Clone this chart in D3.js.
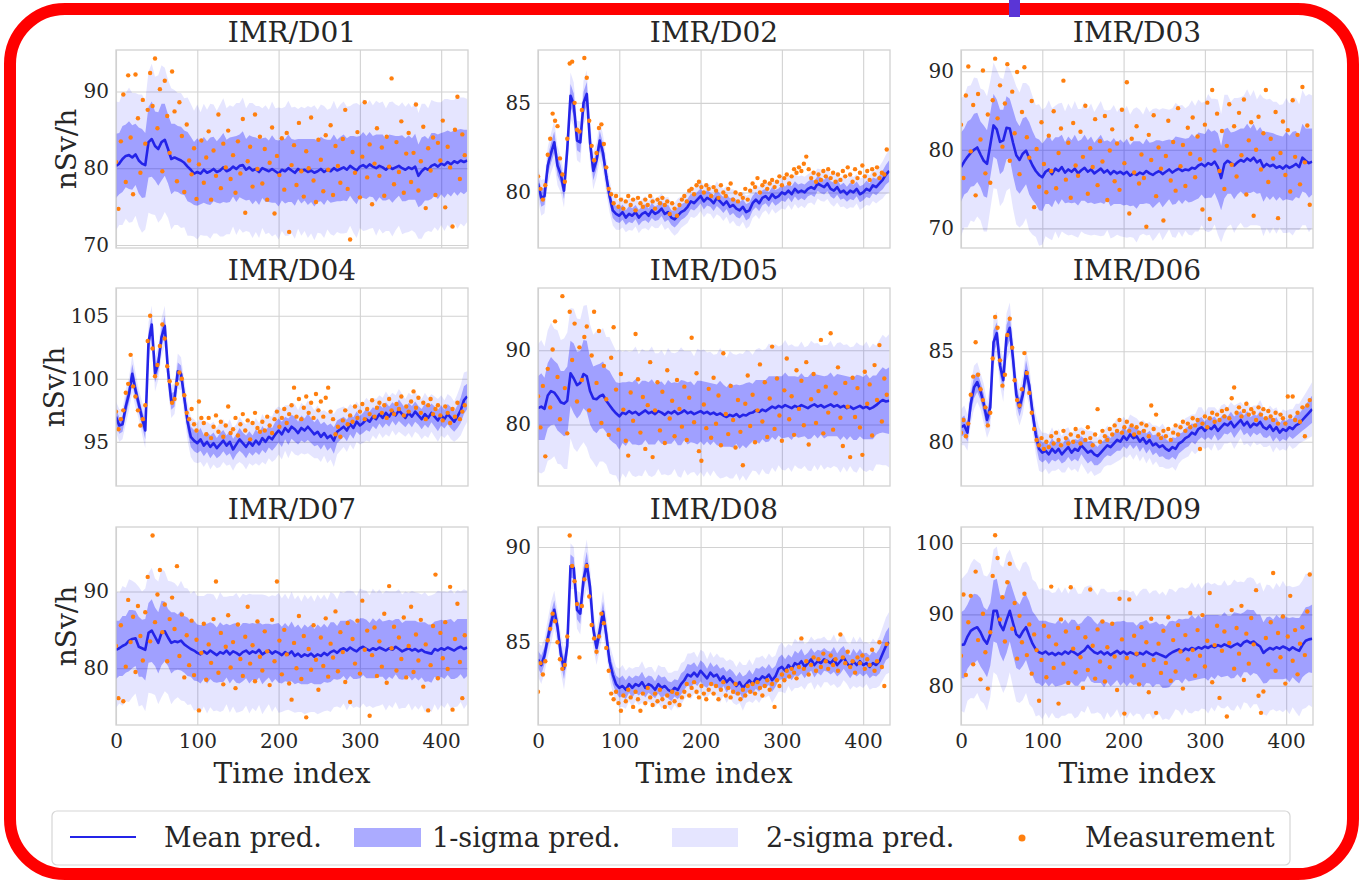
<!DOCTYPE html>
<html>
<head>
<meta charset="utf-8">
<script src="https://cdn.jsdelivr.net/npm/d3@7"></script>
<style>
body { margin: 0; background: #fff; }
svg text { font-family: "DejaVu Serif", serif; fill: #262626; }
</style>
</head>
<body>
<svg id="chart" width="1359" height="882"></svg>
<script>
// panel names, axis limits and ticks
const panelNames = ['IMR/D01', 'IMR/D02', 'IMR/D03', 'IMR/D04', 'IMR/D05', 'IMR/D06', 'IMR/D07', 'IMR/D08', 'IMR/D09'];
const yLow = [69.6, 76.9, 67.5, 91.5, 71.7, 77.55, 72.6, 80.65, 74.5];
const yHigh = [95.4, 87.95, 92.7, 107.2, 98.4, 88.5, 98.4, 91.05, 102.25];
const yTickValues = [[70, 80, 90], [80, 85], [70, 80, 90], [95, 100, 105], [80, 90], [80, 85], [80, 90], [85, 90], [80, 90, 100]];
const xTickValues = [0, 100, 200, 300, 400];
const timeMax = 433;
const meanStep = 4;   // mean / sigma read every 4 time indices
const measStep = 3;   // measurements read every 3 time indices
const legendLabels = ['Mean pred.', '1-sigma pred.', '2-sigma pred.', 'Measurement'];

// IMR/D01
const d01Mean = [80.3,80.6,81.2,81.6,81.7,81.4,81.8,81.0,80.6,80.4,
83.4,83.8,82.9,82.5,83.4,83.7,82.5,81.2,81.4,81.2,
81.0,80.7,80.2,79.8,79.3,79.5,79.3,79.8,79.4,79.6,
79.9,79.5,79.7,80.1,79.6,79.8,80.2,79.9,80.3,80.4,
79.8,80.1,79.7,79.9,79.5,80.0,79.8,79.6,79.9,79.6,
79.3,79.8,79.6,80.0,79.7,79.4,79.9,79.6,79.8,79.5,
79.7,79.4,79.6,79.9,79.5,79.8,79.6,80.0,79.7,79.9,
80.1,79.8,80.3,80.0,79.7,80.2,80.4,80.1,80.5,80.2,
80.0,80.3,80.1,79.8,80.2,79.9,80.1,80.3,80.0,79.8,
80.1,79.9,80.2,79.0,79.6,80.0,79.8,80.3,80.5,80.2,
80.6,80.4,80.8,80.5,80.9,80.7,81.0,80.8,81.0];
const d01Sd = [4.2,4.0,4.3,4.1,4.4,4.2,4.0,4.3,4.5,4.2,
4.6,4.9,4.5,4.8,5.0,4.7,4.5,4.6,4.4,4.3,
4.4,4.2,4.5,4.3,4.1,4.4,4.0,4.3,4.1,4.4,
4.2,4.0,4.3,4.5,4.1,4.2,3.9,4.3,4.1,4.4,
4.0,4.2,4.4,4.1,4.3,3.9,4.2,4.0,4.4,4.1,
4.3,4.0,4.2,4.4,4.1,4.3,3.9,4.2,4.0,4.3,
4.1,4.4,4.0,4.2,4.3,3.9,4.1,4.4,4.0,4.2,
4.3,4.1,3.9,4.2,4.4,4.0,4.3,4.1,4.2,4.0,
4.4,4.1,4.3,4.0,4.2,4.4,4.1,3.9,4.3,4.1,
4.2,4.0,4.3,4.1,4.4,4.2,4.0,4.3,4.1,4.2,
4.0,4.3,4.1,4.2,4.0,4.3,4.1,4.2,4.0];
const d01Meas = [80.8,74.7,83.5,89.6,78.2,92.1,84.0,76.6,92.2,86.5,79.4,88.9,
83.2,87.6,92.4,88.1,94.3,85.2,90.3,79.6,91.4,86.8,82.0,92.6,
87.4,78.3,88.6,84.2,76.9,85.7,81.0,79.2,82.6,76.0,80.5,83.6,
78.1,81.4,84.8,75.9,82.3,79.0,87.0,77.4,83.2,80.1,84.9,78.6,
81.7,76.8,83.5,79.3,86.4,74.2,80.9,82.8,77.6,87.0,79.9,84.1,
78.0,82.5,75.9,80.7,85.3,74.1,81.6,79.1,83.9,77.2,84.6,71.7,
80.4,83.0,77.8,85.9,79.6,76.3,82.2,80.0,86.6,78.4,75.6,83.7,
81.1,77.0,84.3,79.8,85.6,76.5,82.9,80.3,78.1,83.8,87.6,77.3,
70.7,82.1,79.4,84.7,76.2,81.5,88.6,78.8,83.1,75.3,80.6,85.2,
79.0,82.7,76.4,84.1,80.2,91.7,77.9,83.4,79.5,86.1,76.8,81.9,
84.6,78.2,82.0,88.3,77.1,80.9,85.4,74.8,82.6,79.7,84.0,76.5,
83.3,81.0,86.2,74.9,82.8,80.1,72.4,85.0,89.3,78.6,84.4,81.7];

// IMR/D02
const d02Mean = [80.5,79.7,79.8,81.5,82.2,82.8,81.5,81.0,80.1,82.4,
85.4,84.9,82.9,82.8,85.0,85.5,82.8,81.2,81.8,82.9,
82.2,80.9,79.8,79.0,78.8,78.7,78.9,78.6,78.8,78.7,
78.9,78.6,78.8,78.9,78.7,79.0,78.8,78.9,79.1,78.8,
78.9,78.6,78.5,78.7,78.9,79.0,79.2,79.5,79.4,79.6,
79.8,79.5,79.7,79.6,79.4,79.7,79.5,79.3,79.5,79.2,
79.3,79.1,79.0,79.2,78.9,79.0,79.4,79.6,79.4,79.7,
79.8,79.6,79.9,79.7,79.8,80.0,79.9,80.1,79.9,80.2,
80.0,80.1,80.0,80.2,80.3,80.2,80.5,80.4,80.3,80.5,
80.2,80.1,80.3,80.0,80.1,79.9,80.1,80.0,80.2,79.9,
80.0,80.2,80.1,80.4,80.3,80.5,80.7,81.0,81.2];
const d02Sd = [0.45,0.50,0.48,0.52,0.55,0.60,0.55,0.50,0.48,0.55,
0.65,0.62,0.55,0.58,0.62,0.66,0.58,0.52,0.50,0.55,
0.52,0.48,0.45,0.42,0.44,0.40,0.43,0.41,0.45,0.42,
0.40,0.44,0.42,0.45,0.41,0.43,0.40,0.44,0.42,0.45,
0.43,0.41,0.46,0.48,0.44,0.42,0.45,0.43,0.41,0.44,
0.42,0.45,0.43,0.40,0.44,0.46,0.42,0.45,0.43,0.48,
0.44,0.47,0.45,0.42,0.46,0.44,0.41,0.43,0.45,0.42,
0.40,0.43,0.41,0.44,0.42,0.45,0.43,0.40,0.44,0.42,
0.45,0.42,0.44,0.41,0.43,0.46,0.42,0.44,0.41,0.43,
0.42,0.45,0.43,0.41,0.44,0.42,0.46,0.43,0.41,0.44,
0.43,0.45,0.42,0.44,0.46,0.48,0.52,0.55,0.60];
const d02Meas = [80.9,80.2,79.6,80.4,82.1,83.0,84.4,84.0,83.7,81.9,81.0,80.6,
83.0,87.2,87.3,85.0,83.5,83.4,84.6,87.5,86.4,84.0,82.6,81.8,
82.2,83.6,83.8,82.7,81.4,80.2,79.9,79.4,79.8,79.2,79.6,79.1,
79.5,79.8,79.3,79.6,79.0,79.7,79.4,79.2,79.6,79.3,79.8,79.5,
79.1,79.6,79.4,79.7,79.3,79.5,78.8,79.4,79.1,78.7,79.3,79.6,
79.8,79.5,80.1,80.2,79.9,80.4,80.6,80.3,80.0,80.4,80.2,79.8,
80.3,80.1,79.7,80.4,80.0,79.8,80.2,80.5,79.6,80.0,79.5,79.9,
79.7,80.2,79.6,80.1,80.5,80.3,80.8,80.0,80.4,80.6,80.2,80.5,
80.7,80.3,80.6,80.9,80.4,80.8,81.0,80.5,80.9,81.3,81.1,81.4,
81.2,81.6,82.0,81.3,80.8,81.1,80.6,81.0,80.7,81.2,80.9,81.3,
80.8,81.1,80.6,81.0,80.7,81.2,80.9,81.4,81.0,80.6,81.3,80.8,
81.1,81.5,80.9,81.2,80.7,81.3,81.0,81.4,80.8,81.1,81.0,82.4];

// IMR/D03
const d03Mean = [77.8,78.5,79.1,79.6,80.0,80.3,79.4,78.6,78.2,80.6,
83.1,82.6,81.0,81.2,82.8,82.7,80.9,79.3,78.7,79.5,
79.9,78.9,78.0,77.3,76.8,76.5,77.2,77.5,76.9,77.6,
77.3,77.8,77.1,77.5,77.2,77.6,77.0,77.4,77.7,77.2,
77.5,77.0,77.3,77.6,77.1,77.4,76.9,77.3,77.0,77.2,
76.9,77.2,76.7,77.0,76.8,77.1,76.9,77.3,77.0,76.8,
77.1,77.3,76.9,77.2,77.5,77.1,77.4,77.6,77.3,77.5,
77.4,77.7,77.6,78.0,78.2,77.9,78.3,78.1,78.5,77.8,
76.4,78.2,78.6,78.3,78.0,78.4,78.7,78.5,78.9,78.6,
79.0,78.4,78.7,77.8,78.2,77.9,78.1,77.7,77.9,77.6,
78.0,77.7,77.9,78.2,77.8,79.0,78.6,78.3,78.5];
const d03Sd = [4.4,4.2,4.5,4.3,4.6,4.4,4.2,4.5,4.3,4.1,
4.0,3.8,4.1,3.9,4.0,3.8,4.2,4.4,4.3,4.5,
4.3,4.6,4.4,4.2,4.5,4.3,4.1,4.4,4.2,4.0,
4.3,4.1,3.9,4.2,4.0,4.3,4.1,3.9,4.2,4.0,
4.2,3.9,4.1,4.3,4.0,3.8,4.1,4.2,3.9,4.1,
4.0,4.2,3.9,4.1,4.3,4.0,3.8,4.1,3.9,4.2,
4.1,3.9,4.2,4.0,3.8,4.1,4.3,4.0,4.2,3.9,
4.1,4.3,4.0,4.2,3.9,4.1,4.4,4.2,4.0,4.3,
4.1,4.4,4.2,3.9,4.3,4.1,4.0,4.2,4.4,4.1,
4.3,4.0,4.2,4.4,4.1,4.3,4.0,4.2,3.9,4.1,
4.3,4.1,4.4,4.2,4.0,4.3,4.1,4.4,4.2];
const d03Meas = [83.2,76.4,86.9,90.6,79.8,85.7,74.2,87.1,81.3,90.1,77.0,84.5,
75.8,86.3,91.6,84.0,88.2,80.4,85.9,90.9,78.6,87.4,82.1,89.9,
76.9,84.8,90.5,81.6,79.0,86.2,72.7,80.1,75.3,83.5,78.2,74.6,
81.8,77.3,84.9,75.1,79.6,82.7,88.8,76.2,80.9,73.9,83.4,78.0,
76.7,82.3,79.1,85.6,74.4,80.2,77.8,83.9,75.5,81.1,78.5,84.3,
73.6,79.9,82.6,76.0,80.8,74.9,85.1,78.3,88.6,71.9,81.4,77.1,
83.0,75.7,79.4,76.4,70.2,81.9,78.7,84.4,74.1,80.3,77.6,71.0,
79.2,83.7,76.1,81.0,74.8,85.3,77.9,80.6,75.4,82.8,79.5,84.1,
76.5,81.7,78.8,72.4,83.2,86.0,71.2,87.6,79.9,84.6,77.3,82.4,
75.0,80.5,85.8,78.1,83.0,76.6,84.7,79.3,86.4,74.3,81.2,83.5,
71.6,80.0,84.2,77.5,82.1,87.6,75.9,81.4,78.9,84.8,71.3,79.6,
83.6,76.8,82.5,74.7,86.3,79.1,81.9,75.6,88.0,78.4,83.1,73.0];

// IMR/D04
const d04Mean = [97.0,96.3,96.4,97.8,98.8,100.4,99.1,98.0,96.9,95.9,
102.9,104.3,100.4,101.2,103.3,104.2,100.6,98.2,98.4,100.6,
100.4,98.5,96.6,95.4,95.1,94.9,95.2,94.7,95.0,94.6,
94.9,94.5,94.8,95.1,94.7,95.0,94.4,94.8,95.2,94.9,
94.6,95.0,94.7,95.1,94.8,95.3,95.0,95.4,95.2,95.6,
95.9,95.6,96.1,95.8,96.2,96.0,95.7,96.1,95.9,96.2,
95.9,95.6,95.8,95.4,95.7,95.3,95.5,95.1,95.8,96.0,
96.2,95.9,96.4,96.1,96.6,96.3,96.5,96.8,96.6,97.0,
96.8,97.2,96.9,97.3,97.0,97.4,97.1,97.5,97.2,96.9,
97.3,97.0,97.4,97.1,96.8,97.2,96.9,97.3,97.0,96.7,
97.1,96.8,97.2,96.9,96.6,97.0,97.5,98.3,98.6];
const d04Sd = [0.6,0.65,0.6,0.7,0.65,0.75,0.7,0.6,0.65,0.7,
0.8,0.75,0.7,0.65,0.75,0.8,0.7,0.65,0.6,0.7,
0.65,0.7,0.75,0.8,0.85,0.8,0.9,0.85,0.8,0.9,
0.85,0.8,0.9,0.85,0.8,0.9,0.85,0.8,0.9,0.85,
0.9,0.85,0.8,0.9,0.85,0.95,0.9,0.85,0.9,1.0,
0.95,1.0,0.9,1.05,0.95,1.0,0.9,1.0,0.95,1.05,
1.0,0.95,1.05,1.0,0.9,1.0,0.95,1.05,0.9,0.85,
0.8,0.85,0.8,0.85,0.8,0.75,0.8,0.85,0.8,0.75,
0.8,0.75,0.8,0.85,0.8,0.75,0.8,0.85,0.8,0.75,
0.8,0.85,0.8,0.75,0.8,0.85,0.8,0.75,0.8,0.85,
0.8,0.75,0.8,0.85,0.8,0.9,1.0,1.1,1.0];
const d04Meas = [97.4,96.0,96.8,97.5,98.9,99.6,101.9,99.4,98.6,97.5,96.3,96.8,
97.9,103.0,105.0,102.4,100.2,101.1,102.6,104.3,103.2,101.0,99.8,98.1,
98.4,99.6,100.5,100.0,98.7,97.3,96.8,97.6,96.4,95.9,98.2,96.9,
96.5,95.6,96.9,95.3,96.2,97.1,95.8,96.6,95.4,96.3,97.8,95.7,
96.0,96.9,95.5,96.4,97.2,95.9,96.7,95.2,96.5,97.3,96.1,95.8,
96.6,95.9,97.0,96.3,95.7,96.8,97.4,96.2,96.9,97.6,96.5,97.2,
97.9,99.3,97.0,98.4,96.8,97.7,98.6,97.3,98.1,96.9,98.8,97.5,
98.2,97.0,98.5,99.3,97.4,96.8,95.6,96.2,95.4,96.7,97.5,96.4,
97.1,96.6,97.8,96.9,97.4,98.0,96.8,97.6,97.2,98.3,97.0,97.7,
98.1,97.3,97.9,96.9,98.4,97.5,97.2,98.0,97.6,98.6,97.1,97.8,
97.4,98.2,99.0,97.7,98.5,97.3,98.1,96.8,97.9,98.4,97.2,97.6,
97.9,97.1,96.7,97.8,97.3,96.5,97.6,97.0,98.1,96.8,97.4,97.9];

// IMR/D05
const d05Mean = [82.2,82.4,82.1,83.9,84.5,84.3,83.7,83.0,82.8,83.2,
86.9,86.2,85.3,85.6,86.8,86.5,84.5,83.5,83.4,83.8,
84.0,83.2,82.6,82.0,81.5,81.1,81.6,81.4,81.8,81.5,
81.7,81.3,81.6,81.9,81.5,81.7,81.4,81.8,81.6,81.3,
81.7,81.5,81.8,81.4,81.6,81.9,81.5,81.7,81.4,81.6,
81.8,81.5,81.7,81.4,81.6,81.3,81.5,81.2,81.0,81.3,
81.1,81.4,81.0,81.3,81.2,81.5,81.6,81.9,81.7,82.0,
81.8,82.1,82.4,82.2,82.5,82.3,82.6,82.4,82.2,82.5,
82.3,82.6,82.4,82.2,82.5,82.7,82.4,82.6,82.3,82.5,
82.7,82.4,82.6,82.3,82.5,82.2,82.4,82.1,82.3,82.5,
82.2,82.4,82.1,82.3,82.6,83.0,83.3,83.1,83.2];
const d05Sd = [4.3,4.5,4.2,4.4,4.6,4.3,4.5,4.2,4.4,4.6,
4.4,4.7,4.5,4.3,4.6,4.8,4.5,4.3,4.6,4.4,
4.5,4.3,4.6,4.4,4.2,4.5,4.1,4.3,4.0,4.2,
4.4,4.1,4.3,4.0,4.2,4.4,4.1,3.9,4.2,4.0,
4.3,4.1,3.9,4.2,4.4,4.0,4.2,4.1,3.9,4.3,
4.1,4.3,4.0,4.2,3.9,4.1,4.4,4.2,4.0,4.3,
4.2,4.0,4.3,4.1,4.4,4.2,3.9,4.1,4.3,4.0,
4.2,4.4,4.1,4.3,4.0,4.2,4.4,4.1,4.3,4.0,
4.1,4.3,4.0,4.2,4.4,4.1,4.3,4.0,4.2,4.1,
4.3,4.0,4.2,4.4,4.1,4.3,4.0,4.2,4.4,4.1,
4.2,4.4,4.1,4.3,4.0,4.2,4.4,4.3,4.5];
const d05Meas = [83.8,79.6,85.2,75.7,87.5,82.3,90.1,93.9,86.4,80.7,97.3,84.9,
78.8,95.2,88.7,93.6,83.1,90.4,86.0,91.8,93.2,81.9,89.3,95.2,
85.6,92.6,80.2,87.9,83.4,78.6,89.0,93.1,84.7,79.3,86.8,82.0,
77.8,75.8,84.3,80.5,92.2,86.1,78.9,83.7,76.7,82.6,88.4,75.6,
81.9,85.7,79.2,84.4,77.5,87.3,80.8,83.2,78.4,86.0,82.1,79.7,
85.1,77.9,83.6,91.7,80.3,86.9,76.4,75.1,82.7,79.5,84.8,78.2,
86.3,80.1,83.9,77.2,89.6,81.4,78.7,85.2,80.6,76.9,83.3,79.0,
74.5,82.8,86.6,79.8,84.0,77.6,81.9,88.1,80.4,85.7,78.3,83.5,
90.5,79.4,86.2,81.2,77.8,84.6,88.9,80.7,83.8,78.6,87.3,82.1,
85.9,79.9,88.4,77.3,83.4,86.8,80.2,84.5,91.4,78.8,85.1,81.6,
92.3,79.3,84.2,87.7,80.9,77.1,85.6,82.4,75.6,86.3,81.0,84.9,
79.6,75.9,87.1,82.8,85.4,78.5,88.0,83.3,90.7,80.4,86.2,84.0];

// IMR/D06
const d06Mean = [80.8,80.9,80.5,82.1,83.0,83.3,82.8,82.1,81.2,81.9,
85.5,86.0,84.2,83.4,85.8,86.3,84.6,82.6,81.9,82.6,
83.9,83.1,81.6,80.4,79.6,79.4,79.5,79.3,79.6,79.4,
79.6,79.3,79.5,79.7,79.4,79.6,79.5,79.8,79.6,79.4,
79.5,79.3,79.2,79.4,79.6,79.8,79.7,79.9,80.1,80.0,
80.3,80.1,80.4,80.2,80.3,80.0,80.2,79.9,80.1,79.8,
79.9,79.7,79.8,79.6,79.5,79.7,79.6,79.9,80.0,80.2,
80.3,80.5,80.4,80.7,80.8,80.6,80.8,80.7,80.9,80.6,
80.8,81.0,80.9,81.1,80.8,81.0,81.2,80.9,81.1,80.8,
81.0,80.9,81.1,80.8,80.7,80.9,80.6,80.8,80.5,80.7,
80.6,80.8,80.7,80.9,81.0,81.2,81.4,81.6,81.8];
const d06Sd = [0.5,0.55,0.5,0.55,0.6,0.55,0.5,0.55,0.5,0.6,
0.65,0.6,0.55,0.6,0.65,0.7,0.6,0.55,0.5,0.55,
0.6,0.55,0.5,0.55,0.6,0.55,0.5,0.55,0.6,0.5,
0.55,0.5,0.6,0.55,0.5,0.55,0.6,0.5,0.55,0.6,
0.55,0.6,0.5,0.55,0.5,0.55,0.5,0.55,0.6,0.5,
0.55,0.5,0.55,0.6,0.5,0.55,0.5,0.55,0.5,0.55,
0.5,0.55,0.6,0.55,0.5,0.55,0.6,0.55,0.5,0.55,
0.55,0.5,0.55,0.6,0.55,0.5,0.55,0.6,0.5,0.55,
0.6,0.55,0.5,0.55,0.6,0.55,0.5,0.55,0.6,0.55,
0.5,0.55,0.6,0.55,0.5,0.55,0.6,0.55,0.5,0.55,
0.55,0.5,0.55,0.6,0.55,0.6,0.65,0.7,0.75];
const d06Meas = [80.5,81.2,80.3,81.0,82.6,83.6,85.5,83.7,82.9,82.3,81.9,80.9,
81.6,84.6,86.9,86.3,84.5,83.1,83.7,85.9,86.8,85.2,83.4,82.3,
82.0,82.9,84.9,83.8,82.7,81.6,80.7,80.1,79.8,80.2,79.6,80.0,
79.7,80.3,79.9,80.5,80.1,79.8,80.6,80.2,79.9,80.4,80.0,80.7,
80.3,79.9,80.5,80.1,80.8,80.2,79.8,80.4,81.8,80.0,80.6,80.3,
80.1,80.7,80.4,80.9,80.6,81.2,80.5,80.8,81.1,80.6,80.9,80.4,
80.8,80.5,81.0,80.6,80.9,80.3,82.0,80.7,81.5,80.4,80.2,80.6,
80.3,80.7,80.1,80.5,80.9,80.4,80.8,81.1,80.6,81.0,80.8,81.3,
80.9,81.2,79.6,81.0,81.4,80.8,81.3,81.6,81.1,81.5,81.2,81.7,
81.4,81.8,81.3,82.4,83.0,81.6,81.9,81.4,81.7,82.1,81.5,81.8,
81.6,81.2,81.9,81.5,81.8,81.3,81.7,81.4,81.2,81.6,81.0,81.5,
81.3,81.0,82.5,81.4,82.5,81.2,81.6,81.1,81.9,80.3,82.0,82.3];

// IMR/D07
const d07Mean = [82.4,82.6,82.9,83.1,83.6,83.8,83.9,82.8,82.6,82.4,
84.6,84.9,84.1,83.3,84.6,84.8,84.0,83.3,83.5,83.4,
83.6,83.1,82.8,82.5,82.3,82.0,81.8,82.2,81.9,82.3,
82.0,81.7,82.1,81.9,82.3,81.8,82.2,82.0,81.7,82.1,
82.3,81.9,82.2,82.0,82.4,81.8,82.1,82.3,81.9,82.2,
82.0,81.7,82.1,81.8,82.2,81.6,81.9,81.5,81.8,81.6,
81.9,81.5,81.8,81.6,82.0,81.7,82.1,82.3,82.0,82.4,
82.6,82.3,82.7,82.4,82.2,82.6,82.8,82.5,82.3,82.6,
82.4,82.7,82.5,82.3,82.6,82.4,82.8,82.5,82.2,82.4,
82.6,82.3,82.5,82.2,82.4,82.1,82.0,81.9,82.5,82.3,
82.6,82.4,82.7,82.5,82.3,82.6,82.8,82.5,82.7];
const d07Sd = [3.8,3.6,3.9,3.7,4.0,3.8,3.6,3.9,3.7,4.0,
3.9,4.1,3.8,4.0,4.2,3.9,3.7,4.0,3.8,3.6,
3.9,3.7,3.8,3.6,3.9,3.7,3.8,3.6,3.9,3.7,
3.8,3.6,3.9,3.7,3.5,3.8,3.6,3.9,3.7,3.8,
3.6,3.9,3.7,3.8,3.6,3.9,3.7,3.5,3.8,3.6,
3.9,3.7,3.8,3.6,3.9,3.7,3.8,3.6,3.9,3.7,
3.8,3.6,3.9,3.7,3.8,3.6,3.9,3.7,3.5,3.8,
3.6,3.9,3.7,3.8,3.6,3.9,3.7,3.8,3.6,3.9,
3.7,3.8,3.6,3.9,3.7,3.8,3.6,3.9,3.7,3.8,
3.6,3.9,3.7,3.8,3.6,3.9,3.7,3.8,3.6,3.9,
3.7,3.8,3.6,3.9,3.7,3.8,3.6,3.9,3.7];
const d07Meas = [82.9,76.1,85.6,75.7,80.2,88.9,83.4,86.7,79.5,88.1,84.2,81.0,
87.3,91.9,83.5,97.3,86.0,89.6,92.8,84.7,88.3,80.9,86.4,89.2,
85.1,93.3,81.6,87.0,78.8,84.3,80.4,86.2,79.1,83.7,74.5,82.0,
85.8,78.5,83.1,80.7,86.4,91.3,79.4,84.6,77.9,82.8,86.9,80.1,
83.4,77.4,85.7,81.2,79.0,84.1,88.0,80.6,83.0,78.3,86.1,81.5,
79.7,84.8,82.2,77.8,86.3,80.9,91.3,83.6,79.2,85.0,81.8,78.0,
75.9,83.3,80.0,86.8,78.6,84.2,73.6,82.5,79.8,85.6,81.1,77.2,
84.0,80.3,86.5,78.9,83.2,81.4,87.4,79.6,84.7,82.1,78.2,85.9,
75.6,83.8,80.6,86.2,79.3,88.8,82.4,84.9,73.8,81.7,85.3,79.0,
83.5,80.2,87.1,78.1,90.7,82.6,85.4,79.7,84.0,81.2,86.6,78.8,
82.9,88.0,79.5,84.4,81.0,86.3,77.6,83.1,74.5,80.4,85.5,92.2,
78.7,84.6,81.3,86.0,79.9,90.6,74.6,83.8,88.4,80.8,76.1,84.3];

// IMR/D08
const d08Mean = [84.1,83.8,84.3,85.2,86.0,86.7,85.8,84.4,83.6,84.8,
89.0,88.9,86.7,86.5,88.3,89.1,87.9,85.7,84.7,85.6,
86.6,85.4,84.0,83.3,82.8,82.6,82.7,82.5,82.8,82.6,
82.8,82.7,82.9,82.6,82.8,82.7,82.5,82.8,82.6,82.7,
82.5,82.4,82.6,82.5,82.8,83.0,83.3,83.2,83.4,83.2,
83.5,83.3,83.1,83.4,83.2,83.3,83.0,83.2,82.9,83.1,
82.9,82.7,82.9,82.6,82.8,83.0,82.8,83.1,83.0,83.2,
83.1,83.3,83.0,83.2,83.6,83.7,83.5,83.8,83.6,83.9,
83.8,84.0,83.7,83.9,84.1,83.8,84.0,83.9,84.1,84.0,
83.9,84.1,83.8,84.0,84.2,83.9,83.7,84.0,83.8,84.0,
83.8,83.9,83.7,83.9,83.8,84.0,84.4,84.8,85.0];
const d08Sd = [0.45,0.5,0.45,0.5,0.55,0.5,0.45,0.5,0.55,0.5,
0.6,0.55,0.5,0.55,0.6,0.65,0.55,0.5,0.45,0.5,
0.55,0.5,0.45,0.5,0.45,0.5,0.55,0.5,0.45,0.5,
0.45,0.5,0.55,0.5,0.45,0.5,0.45,0.5,0.55,0.5,
0.45,0.5,0.45,0.5,0.55,0.5,0.55,0.6,0.55,0.5,
0.55,0.6,0.5,0.55,0.5,0.55,0.6,0.5,0.55,0.5,
0.55,0.5,0.55,0.6,0.5,0.55,0.5,0.55,0.6,0.55,
0.5,0.55,0.6,0.55,0.6,0.65,0.6,0.55,0.6,0.65,
0.6,0.65,0.6,0.55,0.6,0.65,0.6,0.65,0.6,0.55,
0.6,0.65,0.6,0.65,0.6,0.55,0.6,0.65,0.6,0.65,
0.6,0.55,0.6,0.65,0.6,0.65,0.7,0.75,0.8];
const d08Meas = [82.4,83.9,83.3,84.0,85.1,85.7,86.5,86.1,85.0,84.1,83.6,83.8,
85.3,90.6,89.0,88.2,87.0,84.2,86.9,88.3,89.0,87.4,85.9,85.2,
84.5,85.3,86.5,86.0,84.7,83.5,82.3,82.0,82.4,81.8,81.4,82.2,
81.9,82.5,82.1,81.6,82.4,82.0,81.4,82.3,81.8,82.6,82.1,81.7,
82.3,81.9,82.5,82.0,81.6,82.2,81.8,82.4,81.9,82.3,81.7,82.1,
82.4,82.8,82.2,82.6,82.9,82.4,82.1,82.7,82.3,82.0,82.5,82.8,
82.3,82.7,82.0,82.5,82.9,82.2,82.6,82.1,82.4,82.8,82.3,82.0,
82.5,82.2,82.7,82.4,82.8,82.3,82.9,82.6,82.2,82.7,83.0,82.5,
82.8,81.6,83.0,82.7,83.3,83.0,83.5,83.2,83.6,83.4,83.1,83.7,
85.2,83.6,84.0,83.3,83.8,84.2,83.5,84.1,83.7,84.4,84.0,83.6,
84.3,83.8,84.1,83.5,85.4,84.2,83.9,84.5,83.7,84.0,83.4,84.2,
83.9,84.3,83.6,84.1,83.8,84.6,83.5,84.0,85.0,83.7,82.7,84.9];

// IMR/D09
const d09Mean = [85.7,85.8,86.9,87.7,88.0,88.2,87.5,86.5,85.9,87.2,
90.5,90.5,88.6,87.8,89.2,90.5,88.8,87.2,86.8,87.6,
88.2,87.0,85.9,85.1,84.7,84.5,84.8,84.4,84.6,84.3,
84.6,84.4,84.8,84.5,84.9,84.6,84.3,84.7,85.0,85.6,
85.1,84.7,84.5,84.8,84.4,84.7,84.3,84.6,84.9,84.5,
84.8,84.4,84.7,84.5,84.3,84.6,84.4,84.8,84.5,84.3,
84.6,84.4,84.2,84.0,84.4,84.7,84.9,85.1,84.8,85.2,
85.0,85.3,85.1,85.4,85.2,85.5,85.3,85.6,85.4,85.7,
85.5,85.8,85.6,85.4,85.7,85.9,85.6,86.1,86.3,86.0,
86.2,85.8,85.5,84.6,85.0,85.3,85.1,85.4,85.2,85.5,
85.3,85.0,85.4,85.1,84.9,85.7,86.3,86.5,86.6];
const d09Sd = [4.6,4.8,4.5,4.7,4.9,4.6,4.8,4.5,4.7,4.4,
4.3,4.5,4.2,4.4,4.6,4.3,4.5,4.7,4.6,4.8,
4.6,4.8,4.5,4.7,4.4,4.6,4.3,4.5,4.2,4.4,
4.6,4.3,4.5,4.2,4.4,4.6,4.3,4.1,4.4,4.2,
4.5,4.3,4.1,4.4,4.6,4.2,4.4,4.3,4.1,4.5,
4.3,4.5,4.2,4.4,4.1,4.3,4.6,4.4,4.2,4.5,
4.4,4.2,4.5,4.3,4.6,4.4,4.1,4.3,4.5,4.2,
4.4,4.6,4.3,4.5,4.2,4.4,4.6,4.3,4.5,4.2,
4.3,4.5,4.2,4.4,4.6,4.3,4.5,4.2,4.4,4.6,
4.4,4.2,4.5,4.3,4.6,4.4,4.2,4.5,4.3,4.6,
4.3,4.5,4.2,4.4,4.6,4.5,4.7,4.6,4.8];
const d09Meas = [84.2,92.8,81.5,88.9,92.6,83.0,96.0,86.4,80.9,90.1,84.7,79.6,
87.5,95.4,101.1,97.9,89.3,92.4,86.2,94.5,97.1,88.0,91.6,83.8,
89.8,86.1,92.9,84.3,88.6,81.7,87.2,85.0,77.9,83.6,88.4,81.2,
86.9,93.9,82.5,85.8,77.5,89.3,83.1,87.6,80.4,93.8,85.2,81.9,
88.1,84.0,79.7,86.8,82.2,93.5,85.6,81.0,87.9,83.4,89.0,80.6,
85.4,82.6,88.7,84.1,79.4,92.2,86.5,76.1,83.9,92.1,81.3,87.0,
84.5,80.2,88.2,82.9,86.1,79.1,89.4,83.6,76.2,85.9,81.8,87.7,
83.2,89.6,80.7,86.4,82.0,88.5,84.8,79.6,87.1,83.7,90.2,85.0,
81.4,87.8,84.2,89.9,82.7,86.3,93.0,80.5,85.7,88.4,78.3,84.9,
87.6,75.7,86.0,90.6,82.4,88.1,84.5,91.2,80.8,87.3,83.1,89.5,
85.8,93.4,78.6,76.2,79.2,86.7,83.0,88.9,95.8,82.1,87.4,84.0,
89.7,80.3,86.9,92.6,83.5,87.8,81.6,85.9,88.2,84.3,90.4,95.6];

const means = [d01Mean, d02Mean, d03Mean, d04Mean, d05Mean, d06Mean, d07Mean, d08Mean, d09Mean];
const sds = [d01Sd, d02Sd, d03Sd, d04Sd, d05Sd, d06Sd, d07Sd, d08Sd, d09Sd];
const measurements = [d01Meas, d02Meas, d03Meas, d04Meas, d05Meas, d06Meas, d07Meas, d08Meas, d09Meas];

let svg = d3.select('#chart');
let ink = '#262626';
let gridColor = '#d2d2d2';
let meanColor = '#2424e8';
let measColor = '#ff7f0e';
let colX = [116, 538, 961];
let rowY = [50, 288, 527];
let pw = 352, ph = 198;

let xScale = d3.scaleLinear().domain([0, timeMax]).range([0, pw]);

// red rounded frame round the whole figure
svg.append('rect')
	.attr('x', 10).attr('y', 9)
	.attr('width', 1343).attr('height', 865)
	.attr('rx', 55)
	.attr('fill', 'none')
	.attr('stroke', '#ff0000')
	.attr('stroke-width', 12);
svg.append('rect')
	.attr('x', 1009).attr('y', 0)
	.attr('width', 11).attr('height', 17)
	.attr('fill', '#5a35d6');

panelNames.forEach(function(name, i) {
	let col = i % 3;
	let row = Math.floor(i / 3);
	let mean = means[i], sd = sds[i], meas = measurements[i];
	let g = svg.append('g').attr('transform', 'translate(' + colX[col] + ',' + rowY[row] + ')');
	let yScale = d3.scaleLinear().domain([yLow[i], yHigh[i]]).range([ph, 0]);

	g.append('clipPath').attr('id', 'clip' + i)
		.append('rect').attr('width', pw).attr('height', ph);

	// grid and tick labels
	let yAxis = g.append('g')
		.call(d3.axisLeft(yScale).tickValues(yTickValues[i]).tickSize(-pw).tickPadding(7).tickFormat(d3.format('d')));
	let xAxis = g.append('g')
		.attr('transform', 'translate(0,' + ph + ')')
		.call(d3.axisBottom(xScale).tickValues(xTickValues).tickSize(-ph).tickPadding(9)
			.tickFormat(row === 2 ? d3.format('d') : function() { return ''; }));
	[yAxis, xAxis].forEach(function(a) {
		a.attr('font-family', null).attr('font-size', null);
		a.select('.domain').remove();
		a.selectAll('line').attr('stroke', gridColor).attr('stroke-width', 1.1);
		a.selectAll('text').attr('font-size', 20).attr('fill', ink);
	});

	let plot = g.append('g').attr('clip-path', 'url(#clip' + i + ')');
	let band = function(k) {
		return d3.area()
			.x(function(d, j) { return xScale(j * meanStep); })
			.y0(function(d, j) { return yScale(d - k * sd[j]); })
			.y1(function(d, j) { return yScale(d + k * sd[j]); });
	};
	plot.append('path').datum(mean).attr('d', band(2))
		.attr('fill', '#0000ff').attr('fill-opacity', 0.1);
	plot.append('path').datum(mean).attr('d', band(1))
		.attr('fill', '#0000ff').attr('fill-opacity', 0.3);
	plot.append('path').datum(mean)
		.attr('d', d3.line()
			.x(function(d, j) { return xScale(j * meanStep); })
			.y(function(d) { return yScale(d); }))
		.attr('fill', 'none')
		.attr('stroke', meanColor)
		.attr('stroke-width', 2.6)
		.attr('stroke-linejoin', 'round');
	plot.selectAll('circle').data(meas).enter().append('circle')
		.attr('cx', function(d, j) { return xScale(j * measStep); })
		.attr('cy', function(d) { return yScale(d); })
		.attr('r', 2.2)
		.attr('fill', measColor);

	// frame of the axes
	g.append('rect').attr('width', pw).attr('height', ph)
		.attr('fill', 'none').attr('stroke', gridColor).attr('stroke-width', 1.3);

	g.append('text')
		.attr('x', pw / 2).attr('y', -8)
		.attr('text-anchor', 'middle')
		.attr('font-size', 28)
		.text(name);

	if (col === 0) {
		// move the label further out when the tick labels have three digits
		let wide = d3.max(yTickValues[i]) >= 100 ? 12 : 0;
		g.append('text')
			.attr('transform', 'translate(' + (-40 - wide) + ',' + (ph / 2) + ') rotate(-90)')
			.attr('text-anchor', 'middle')
			.attr('font-size', 28)
			.text('nSv/h');
	}
	if (row === 2) {
		g.append('text')
			.attr('x', pw / 2).attr('y', ph + 58)
			.attr('text-anchor', 'middle')
			.attr('font-size', 28)
			.text('Time index');
	}
});

// legend
let legend = svg.append('g');
legend.append('rect')
	.attr('x', 52).attr('y', 811)
	.attr('width', 1238).attr('height', 54)
	.attr('rx', 5)
	.attr('fill', '#fff')
	.attr('stroke', '#d6d6d6')
	.attr('stroke-width', 1.2);
legend.append('line')
	.attr('x1', 70).attr('x2', 136).attr('y1', 837).attr('y2', 837)
	.attr('stroke', meanColor).attr('stroke-width', 2);
legend.append('rect')
	.attr('x', 354).attr('y', 828).attr('width', 67).attr('height', 19)
	.attr('fill', '#0000ff').attr('fill-opacity', 0.33);
legend.append('rect')
	.attr('x', 672).attr('y', 828).attr('width', 66).attr('height', 19)
	.attr('fill', '#0000ff').attr('fill-opacity', 0.1);
legend.append('circle')
	.attr('cx', 1022).attr('cy', 838).attr('r', 3.5)
	.attr('fill', measColor);
let legendX = [164, 432, 766, 1085];
legend.selectAll('text.lab').data(legendLabels).enter().append('text')
	.attr('class', 'lab')
	.attr('x', function(d, k) { return legendX[k]; })
	.attr('y', 847)
	.attr('font-size', 27)
	.text(function(d) { return d; });
</script>
</body>
</html>
